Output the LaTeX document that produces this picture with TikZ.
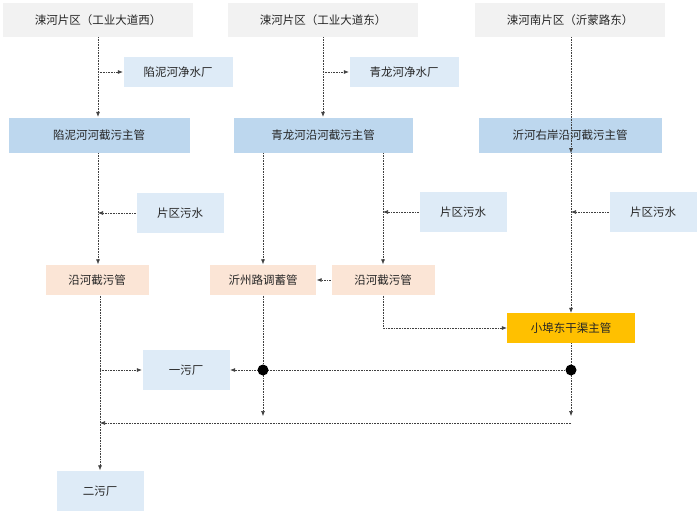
\documentclass[tikz,border=0pt]{standalone}
\usepackage{fontspec}
\setmainfont{Noto Sans CJK SC}
\usetikzlibrary{arrows.meta}
\definecolor{gbox}{HTML}{F2F2F2}
\definecolor{lbox}{HTML}{DEEBF7}
\definecolor{bbox}{HTML}{BDD7EE}
\definecolor{obox}{HTML}{FBE5D6}
\definecolor{ybox}{HTML}{FFC000}
\tikzset{
 bx/.style={inner sep=0pt,font=\fontsize{11.5}{13}\selectfont,text=black!85},
 gb/.style={bx,fill=gbox,minimum width=190pt,minimum height=34pt},
 lb/.style={bx,fill=lbox,draw=white,minimum width=110pt,minimum height=31pt},
 pb/.style={bx,fill=lbox,draw=white,minimum width=88pt,minimum height=41pt},
 mb/.style={bx,fill=bbox,draw=white,minimum height=36pt},
 ob/.style={bx,fill=obox,draw=white,minimum width=104pt,minimum height=31pt},
 ln/.style={densely dotted,black!75,line width=0.6pt,-{Latex[length=5pt,width=4pt]}},
 pl/.style={densely dotted,black!75,line width=0.6pt},
}
\begin{document}
\begin{tikzpicture}[x=1pt,y=-1pt]
\useasboundingbox (0,0) rectangle (700,512);
\node[gb] (t1) at (98,20) {涑河片区（工业大道西）};
\node[gb] (t2) at (323,20) {涑河片区（工业大道东）};
\node[gb] (t3) at (570,20) {涑河南片区（沂蒙路东）};
\node[lb] (s1) at (178,72) {陷泥河净水厂};
\node[lb] (s2) at (404,72) {青龙河净水厂};
\node[mb,minimum width=182pt] (m1) at (99,135) {陷泥河河截污主管};
\node[mb,minimum width=180pt] (m2) at (323,135) {青龙河沿河截污主管};
\node[mb,minimum width=184pt] (m3) at (570,135) {沂河右岸沿河截污主管};
\node[pb] (p1) at (180,213) {片区污水};
\node[pb] (p2) at (463,212) {片区污水};
\node[pb] (p3) at (653,212) {片区污水};
\node[ob] (y1) at (97,280) {沿河截污管};
\node[ob,minimum width=107pt] (y2) at (263,280) {沂州路调蓄管};
\node[ob] (y3) at (383,280) {沿河截污管};
\node[bx,fill=ybox,minimum width=128pt,minimum height=30pt] (xb) at (571,328) {小埠东干渠主管};
\node[pb] (f1) at (186,370) {一污厂};
\node[pb] (f2) at (100,491) {二污厂};
% col1
\draw[ln] (t1.south -| 98,0) -- (m1.north -| 98,0);
\coordinate (a1) at (98,72);
\draw[ln] (a1) -- (s1.west);
\draw[ln] (m1.south -| 98,0) -- (y1.north -| 98,0);
\coordinate (a2) at (98,213);
\draw[ln] (p1.west) -- (a2);
\draw[ln] (y1.south -| 100,0) -- (f2.north);
\coordinate (a3) at (100,370);
\draw[ln] (a3) -- (f1.west);
% col2
\draw[ln] (t2.south) -- (m2.north);
\coordinate (b1) at (323,72);
\draw[ln] (b1) -- (s2.west);
\draw[ln] (m2.south -| 263,0) -- (y2.north);
\coordinate (d1) at (263,370);
\coordinate (d2) at (571,370);
\coordinate (e1) at (263,416);
\coordinate (e2) at (571,416);
\draw[pl] (y2.south) -- (d1);
\draw[ln] (d1) -- (e1);
\draw[ln] (d2) -- (d1) -- (f1.east);
% col3
\draw[ln] (m2.south -| 383,0) -- (y3.north);
\coordinate (c1) at (383,212);
\draw[ln] (p2.west) -- (c1);
\draw[ln] (y3.west) -- (y2.east);
\draw[ln] (y3.south) |- (xb.west);
% col4
\draw[ln] (t3.south -| 571,0) -- (m3.south -| 571,0);
\draw[ln] (m3.south -| 571,0) -- (xb.north);
\coordinate (g1) at (571,212);
\draw[ln] (p3.west) -- (g1);
\draw[pl] (xb.south) -- (d2);
\draw[ln] (d2) -- (e2);
\coordinate (h1) at (571,423);
\coordinate (h2) at (100,423);
\draw[ln] (h1) -- (h2);
\fill (d1) circle (5.5pt) (d2) circle (5.5pt);
\end{tikzpicture}
\end{document}
